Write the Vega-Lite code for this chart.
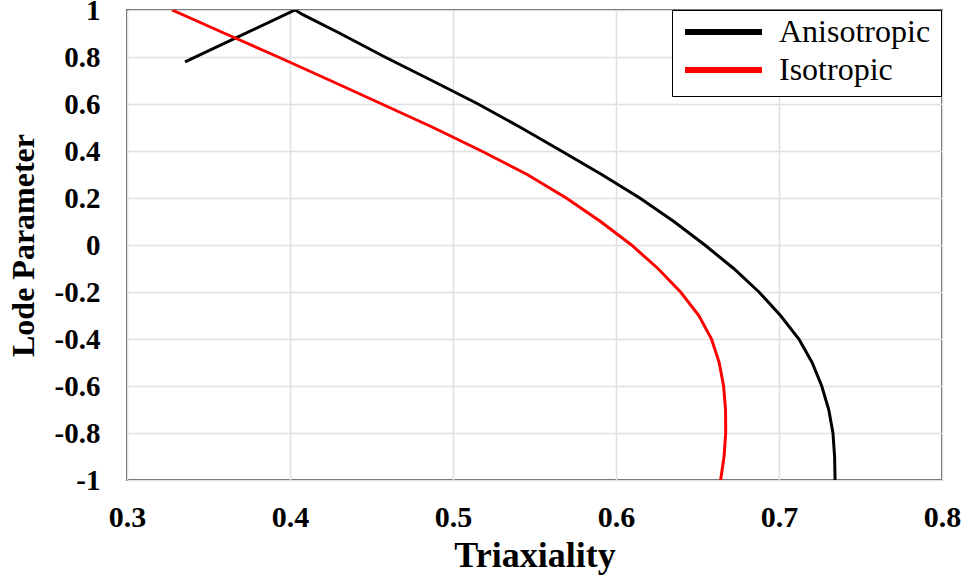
{
  "$schema": "https://vega.github.io/schema/vega-lite/v6.json",
  "autosize": "none",
  "width": 815,
  "height": 470,
  "padding": {"left": 127, "top": 10, "right": 25, "bottom": 102},
  "background": "white",
  "config": {
    "view": {"stroke": "#222", "strokeWidth": 1.5},
    "font": "Liberation Serif",
    "axis": {
      "labelFont": "Liberation Serif",
      "titleFont": "Liberation Serif",
      "labelFontWeight": "bold",
      "titleFontWeight": "bold",
      "labelColor": "black",
      "titleColor": "black",
      "gridColor": "#e0e0e0",
      "gridWidth": 1.5,
      "ticks": false,
      "domain": false
    }
  },
  "data": {
    "values": [
      {"series": "Anisotropic", "i": 0, "x": 0.3356, "y": 0.779},
      {"series": "Anisotropic", "i": 1, "x": 0.4031, "y": 1.0},
      {"series": "Anisotropic", "i": 2, "x": 0.4082, "y": 0.979},
      {"series": "Anisotropic", "i": 3, "x": 0.4308, "y": 0.9},
      {"series": "Anisotropic", "i": 4, "x": 0.4582, "y": 0.8},
      {"series": "Anisotropic", "i": 5, "x": 0.487, "y": 0.7},
      {"series": "Anisotropic", "i": 6, "x": 0.5154, "y": 0.6},
      {"series": "Anisotropic", "i": 7, "x": 0.5415, "y": 0.5},
      {"series": "Anisotropic", "i": 8, "x": 0.5665, "y": 0.4},
      {"series": "Anisotropic", "i": 9, "x": 0.5912, "y": 0.3},
      {"series": "Anisotropic", "i": 10, "x": 0.6146, "y": 0.2},
      {"series": "Anisotropic", "i": 11, "x": 0.6355, "y": 0.1},
      {"series": "Anisotropic", "i": 12, "x": 0.6545, "y": 0.0},
      {"series": "Anisotropic", "i": 13, "x": 0.6722, "y": -0.1},
      {"series": "Anisotropic", "i": 14, "x": 0.6877, "y": -0.2},
      {"series": "Anisotropic", "i": 15, "x": 0.7009, "y": -0.3},
      {"series": "Anisotropic", "i": 16, "x": 0.7122, "y": -0.4},
      {"series": "Anisotropic", "i": 17, "x": 0.7203, "y": -0.5},
      {"series": "Anisotropic", "i": 18, "x": 0.7262, "y": -0.6},
      {"series": "Anisotropic", "i": 19, "x": 0.7305, "y": -0.7},
      {"series": "Anisotropic", "i": 20, "x": 0.7331, "y": -0.8},
      {"series": "Anisotropic", "i": 21, "x": 0.7341, "y": -0.9},
      {"series": "Anisotropic", "i": 22, "x": 0.7344, "y": -1.0},
      {"series": "Isotropic", "i": 0, "x": 0.3276, "y": 1.0},
      {"series": "Isotropic", "i": 1, "x": 0.3601, "y": 0.9},
      {"series": "Isotropic", "i": 2, "x": 0.3928, "y": 0.8},
      {"series": "Isotropic", "i": 3, "x": 0.4247, "y": 0.7},
      {"series": "Isotropic", "i": 4, "x": 0.4563, "y": 0.6},
      {"series": "Isotropic", "i": 5, "x": 0.4878, "y": 0.5},
      {"series": "Isotropic", "i": 6, "x": 0.5175, "y": 0.4},
      {"series": "Isotropic", "i": 7, "x": 0.5455, "y": 0.3},
      {"series": "Isotropic", "i": 8, "x": 0.5695, "y": 0.2},
      {"series": "Isotropic", "i": 9, "x": 0.5905, "y": 0.1},
      {"series": "Isotropic", "i": 10, "x": 0.6095, "y": 0.0},
      {"series": "Isotropic", "i": 11, "x": 0.6257, "y": -0.1},
      {"series": "Isotropic", "i": 12, "x": 0.6396, "y": -0.2},
      {"series": "Isotropic", "i": 13, "x": 0.6508, "y": -0.3},
      {"series": "Isotropic", "i": 14, "x": 0.6586, "y": -0.4},
      {"series": "Isotropic", "i": 15, "x": 0.6633, "y": -0.5},
      {"series": "Isotropic", "i": 16, "x": 0.666, "y": -0.6},
      {"series": "Isotropic", "i": 17, "x": 0.6672, "y": -0.7},
      {"series": "Isotropic", "i": 18, "x": 0.6673, "y": -0.8},
      {"series": "Isotropic", "i": 19, "x": 0.6663, "y": -0.9},
      {"series": "Isotropic", "i": 20, "x": 0.6642, "y": -1.0}
    ]
  },
  "mark": {"type": "line", "strokeWidth": 3, "interpolate": "linear", "clip": true},
  "encoding": {
    "x": {
      "field": "x", "type": "quantitative",
      "scale": {"domain": [0.3, 0.8], "nice": false},
      "axis": {"title": "Triaxiality", "values": [0.3, 0.4, 0.5, 0.6, 0.7, 0.8], "format": ".1f", "labelFontSize": 30, "titleFontSize": 36, "labelPadding": 22, "titlePadding": 6, "labelFlush": false}
    },
    "y": {
      "field": "y", "type": "quantitative",
      "scale": {"domain": [-1, 1], "nice": false},
      "axis": {"title": "Lode Parameter", "values": [-1, -0.8, -0.6, -0.4, -0.2, 0, 0.2, 0.4, 0.6, 0.8, 1], "labelExpr": "datum.value == 0 ? '0' : ((datum.value < 0 ? '-' : '') + (abs(datum.value) == 1 ? '1' : format(abs(datum.value), '.1f')))", "labelFontSize": 29, "titleFontSize": 32, "labelPadding": 27, "titlePadding": 14, "labelFlush": false}
    },
    "order": {"field": "i", "type": "quantitative"},
    "color": {
      "field": "series", "type": "nominal",
      "scale": {"domain": ["Anisotropic", "Isotropic"], "range": ["#000000", "#ff0000"]},
      "legend": {
        "title": null,
        "orient": "none",
        "legendX": 545,
        "legendY": 0,
        "symbolType": "stroke",
        "symbolSize": 5929,
        "symbolStrokeWidth": 6,
        "clipHeight": 24,
        "labelFont": "Liberation Serif",
        "labelFontSize": 32,
        "labelColor": "black",
        "labelOffset": 14,
        "padding": 10,
        "rowPadding": 6,
        "strokeColor": "black",
        "fillColor": "white"
      }
    }
  }
}
